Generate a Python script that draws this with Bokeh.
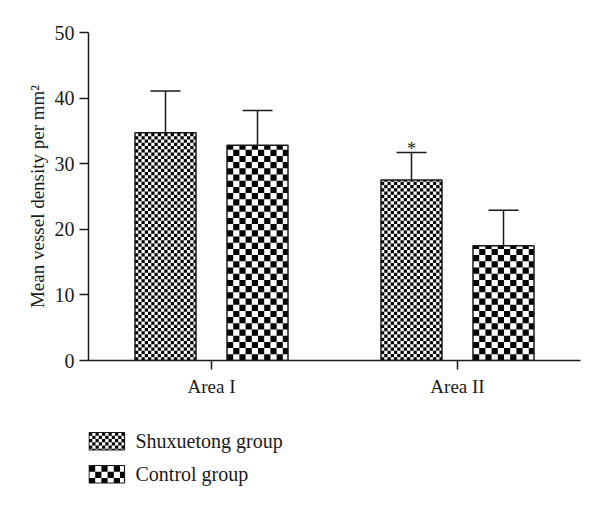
import math
from bokeh.plotting import figure
from bokeh.layouts import column
from bokeh.models import ColumnDataSource, Range1d, FixedTicker, Whisker, TeeHead
from bokeh.core.properties import value
from bokeh.embed import file_html
from bokeh.resources import INLINE

# ---- data ----
areas = ["Area I", "Area II"]
shux_mean = [34.7, 27.5]
shux_err = [6.4, 4.2]
ctrl_mean = [32.8, 17.5]
ctrl_err = [5.3, 5.4]
shux_sig = ["", "*"]
ctrl_sig = ["", ""]
y_ticks = [0, 10, 20, 30, 40, 50]
series_names = ["Shuxuetong group", "Control group"]

# ---- style / layout ----
FONT = "Liberation Serif"
INK = "#1a1a1a"
BAR_W = 0.248
OFF = 0.187
W = 584
H_MAIN = 402
H_LEG = 89
BORDER_L, BORDER_R, BORDER_T, BORDER_B = 88, 4, 32, 42
X0, X1, Y0, Y1 = 0.5, 2.5, 0, 50
FINE_PX = 3.25      # checker cell size (pixels), Shuxuetong
COARSE_PX = 6.2     # checker cell size (pixels), Control

FRAME_W = W - BORDER_L - BORDER_R
FRAME_H = H_MAIN - BORDER_T - BORDER_B
XU = (X1 - X0) / FRAME_W    # data units per pixel
YU = (Y1 - Y0) / FRAME_H

group_pos = [i + 1 for i in range(len(areas))]


def make_source(means, errs, sig, offset):
    return ColumnDataSource(dict(
        x=[g + offset for g in group_pos],
        top=means,
        upper=[m + e for m, e in zip(means, errs)],
        sig=sig,
    ))


def checker(x0, x1, y0, y1, cw, ch):
    """black cells of a checkerboard filling the rectangle [x0,x1]x[y0,y1]"""
    out = dict(left=[], right=[], bottom=[], top=[])
    lo_y, hi_y = min(y0, y1), max(y0, y1)
    nx = int(math.ceil((x1 - x0) / cw - 1e-9))
    ny = int(math.ceil((hi_y - lo_y) / ch - 1e-9))
    for i in range(nx):
        for j in range(ny):
            if (i + j) % 2:
                continue
            l = x0 + i * cw
            b = lo_y + j * ch
            out["left"].append(l)
            out["right"].append(min(l + cw, x1))
            out["bottom"].append(b)
            out["top"].append(min(b + ch, hi_y))
    return out


def bar_cells(src, cell_px):
    acc = dict(left=[], right=[], bottom=[], top=[])
    for x, top in zip(src.data["x"], src.data["top"]):
        c = checker(x - BAR_W / 2, x + BAR_W / 2, 0, top, cell_px * XU, cell_px * YU)
        for k in acc:
            acc[k] += c[k]
    return acc


src_s = make_source(shux_mean, shux_err, shux_sig, -OFF)
src_c = make_source(ctrl_mean, ctrl_err, ctrl_sig, OFF)

p = figure(width=W, height=H_MAIN, output_backend="svg", toolbar_location=None,
           x_range=Range1d(X0, X1), y_range=Range1d(Y0, Y1),
           min_border_left=BORDER_L, min_border_right=BORDER_R,
           min_border_top=BORDER_T, min_border_bottom=BORDER_B)
p.outline_line_color = None
p.xgrid.visible = False
p.ygrid.visible = False
p.background_fill_color = "white"
p.border_fill_color = "white"

for src in (src_s, src_c):
    w = Whisker(source=src, base="x", lower="top", upper="upper",
                line_color=INK, line_width=1.5, lower_head=None,
                upper_head=TeeHead(size=30, line_color=INK, line_width=1.5))
    p.add_layout(w)

# bar backgrounds
for src in (src_s, src_c):
    p.vbar(x="x", top="top", bottom=0, width=BAR_W, source=src,
           fill_color="white", line_color=None)
# checker patterns
p.quad(source=ColumnDataSource(bar_cells(src_s, FINE_PX)), left="left", right="right",
       bottom="bottom", top="top", fill_color="black", line_color=None)
p.quad(source=ColumnDataSource(bar_cells(src_c, COARSE_PX)), left="left", right="right",
       bottom="bottom", top="top", fill_color="black", line_color=None)
# bar outlines
for src in (src_s, src_c):
    p.vbar(x="x", top="top", bottom=0, width=BAR_W, source=src,
           fill_color=None, line_color=INK, line_width=1.5)

p.text(x="x", y="upper", text="sig", source=src_s, text_align="center",
       text_baseline="alphabetic", text_font=value(FONT), text_font_size="18px",
       text_color=INK, y_offset=-4)

for ax in (p.xaxis[0], p.yaxis[0]):
    ax.axis_line_color = INK
    ax.axis_line_width = 1.5
    ax.major_tick_line_color = INK
    ax.major_tick_line_width = 1.5
    ax.major_tick_out = 9
    ax.major_tick_in = 0
    ax.minor_tick_line_color = None
    ax.major_label_text_font = FONT
    ax.major_label_text_font_size = "19px"
    ax.major_label_text_color = INK

p.yaxis.ticker = FixedTicker(ticks=y_ticks)
p.yaxis.major_label_text_font_size = "20px"
p.yaxis.major_label_standoff = 5
p.yaxis.axis_label = "Mean vessel density per mm\u00b2"
p.yaxis.axis_label_text_font = FONT
p.yaxis.axis_label_text_font_size = "19px"
p.yaxis.axis_label_text_font_style = "normal"
p.yaxis.axis_label_text_color = INK
p.yaxis.axis_label_standoff = 4

p.xaxis.ticker = FixedTicker(ticks=group_pos)
p.xaxis.major_label_overrides = {g: a for g, a in zip(group_pos, areas)}
p.xaxis.major_label_standoff = 6

# ---- legend panel (pixel coordinates, y downward; frame aligned with main plot) ----
leg = figure(width=W, height=H_LEG, output_backend="svg", toolbar_location=None,
             x_range=Range1d(BORDER_L, W - BORDER_R), y_range=Range1d(H_LEG, 0),
             x_axis_type=None, y_axis_type=None,
             min_border_left=BORDER_L, min_border_right=BORDER_R,
             min_border_top=0, min_border_bottom=0)
leg.outline_line_color = None
leg.background_fill_color = "white"
leg.border_fill_color = "white"
leg.xgrid.visible = False
leg.ygrid.visible = False

SW_X0, SW_X1 = 88.5, 124
SW_H = 17.5
SW_TOPS = [30, 63]
cells_px = [FINE_PX, COARSE_PX]
for name, ytop, cpx in zip(series_names, SW_TOPS, cells_px):
    c = checker(SW_X0, SW_X1, ytop, ytop + SW_H, cpx, cpx)
    leg.quad(left=c["left"], right=c["right"], bottom=c["bottom"], top=c["top"],
             fill_color="black", line_color=None)
    leg.quad(left=[SW_X0], right=[SW_X1], bottom=[ytop + SW_H], top=[ytop],
             fill_color=None, line_color=INK, line_width=1.2)
    leg.text(x=[135], y=[ytop + SW_H / 2], text=[name], text_font=value(FONT),
             text_font_size="20px", text_color=INK, text_baseline="middle",
             text_align="left")

open("out.html", "w").write(file_html(column(p, leg, spacing=0), INLINE))
